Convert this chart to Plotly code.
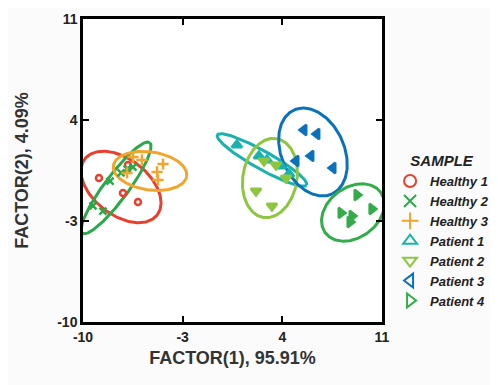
import numpy as np
import plotly.graph_objects as go

# ---- data ----
samples = ["Healthy 1", "Healthy 2", "Healthy 3", "Patient 1", "Patient 2", "Patient 3", "Patient 4"]

h1_x = [-8.88, -6.84, -7.19, -6.14]
h1_y = [-0.02, 0.88, -1.06, -1.68]

h2_x = [-9.30, -8.60, -8.10, -7.33, -6.49, -6.90]
h2_y = [-1.96, -2.31, -0.23, 0.33, 0.74, 0.60]

h3_x = [-6.49, -5.86, -6.91, -4.38, -4.80, -4.73]
h3_y = [1.44, 1.23, 0.33, 0.95, 0.40, -0.16]

p1_x = [0.81, 2.36, 2.92, 3.90, 4.47]
p1_y = [2.27, 1.51, 1.23, 0.81, 0.26]

p2_x = [2.15, 3.27, 4.26, 2.71, 3.55]
p2_y = [-0.92, -1.96, -0.02, 1.16, 0.88]

p3_x = [5.52, 6.43, 6.01, 4.96, 7.56]
p3_y = [3.31, 3.03, 1.51, 1.16, 0.67]

p4_x = [9.24, 8.12, 10.29, 8.75, 8.89]
p4_y = [-1.20, -2.44, -2.17, -3.07, -2.65]

# ellipse parameters: centre x, centre y, semi-major, semi-minor, angle (deg)
ell_cx = [-7.33, -7.68, -5.29, 2.57, 3.13, 6.15, 8.96]
ell_cy = [-0.64, -0.71, 0.47, 1.23, -0.02, 1.78, -2.41]
ell_a = [3.20, 3.93, 2.60, 3.58, 2.77, 3.20, 2.40]
ell_b = [1.95, 0.84, 1.32, 0.63, 1.90, 2.20, 1.75]
ell_ang = [-37, 53, -8, -29, 80, -65, 35]

tick_vals = [-10, -3, 4, 11]
x_title = "FACTOR(1), 95.91%"
y_title = "FACTOR(2), 4.09%"

# ---- styling ----
colors = ["#e8402c", "#2ba84a", "#f2a52c", "#1bb2ad", "#8dc63f", "#0a72bc", "#33ac4a"]
plot_symbols = ["circle-open", "x-thin-open", "cross-thin-open", "triangle-up",
                "triangle-down", "triangle-left", "triangle-right"]
legend_symbols = ["circle-open", "x-thin-open", "cross-thin-open", "triangle-up-open",
                  "triangle-down-open", "triangle-left-open", "triangle-right-open"]
sizes = [6, 7, 8, 9, 9, 9, 9]

xs = [h1_x, h2_x, h3_x, p1_x, p2_x, p3_x, p4_x]
ys = [h1_y, h2_y, h3_y, p1_y, p2_y, p3_y, p4_y]

fig = go.Figure()

t = np.linspace(0, 2 * np.pi, 200)
for i in range(len(samples)):
    th = np.deg2rad(ell_ang[i])
    ex = ell_cx[i] + ell_a[i] * np.cos(t) * np.cos(th) - ell_b[i] * np.sin(t) * np.sin(th)
    ey = ell_cy[i] + ell_a[i] * np.cos(t) * np.sin(th) + ell_b[i] * np.sin(t) * np.cos(th)
    fig.add_trace(go.Scatter(x=ex, y=ey, mode="lines", line=dict(color=colors[i], width=3),
                             showlegend=False, hoverinfo="skip"))

for i, name in enumerate(samples):
    fig.add_trace(go.Scatter(
        x=xs[i], y=ys[i], mode="markers", name=name, showlegend=False,
        marker=dict(symbol=plot_symbols[i], size=sizes[i], color=colors[i],
                    line=dict(color=colors[i], width=2.5)),
    ))
    # legend entry (open symbol, as in the reference key)
    fig.add_trace(go.Scatter(
        x=[None], y=[None], mode="markers", name=name,
        marker=dict(symbol=legend_symbols[i], size=12, color=colors[i],
                    line=dict(color=colors[i], width=3)),
    ))

axis_common = dict(
    showgrid=False, zeroline=False, showline=True, linecolor="black", linewidth=2.5,
    mirror="ticks", ticks="inside", ticklen=6, tickwidth=2, tickcolor="black",
    tickmode="array", tickvals=tick_vals, ticktext=[str(v) for v in tick_vals],
    tickfont=dict(family="Arial", size=14, color="#222222", weight="bold"),
    title_font=dict(family="Arial", size=18, color="#333333", weight="bold"),
    automargin=False,
)

# the page body adds an 8px offset, so the figure is 8px smaller than the window
fig.update_layout(
    width=490, height=377,
    margin=dict(l=75, r=116, t=11, b=63, autoexpand=False),
    paper_bgcolor="#fbfbfc", plot_bgcolor="white",
    xaxis=dict(range=[-10, 11], title=dict(text=x_title, standoff=8), **axis_common),
    yaxis=dict(range=[-10, 11], title=dict(text=y_title, standoff=24), **axis_common),
    legend=dict(
        x=1.027, y=0.30, xanchor="left", yanchor="middle",
        title=dict(text="SAMPLE", side="top center",
                   font=dict(family="Arial", size=15, color="#222222", weight="bold", style="italic")),
        font=dict(family="Arial", size=13, color="#222222", weight="bold", style="italic"),
        itemsizing="constant", tracegroupgap=0, bgcolor="rgba(0,0,0,0)",
    ),
    showlegend=True,
)

fig.write_html("out.html")
